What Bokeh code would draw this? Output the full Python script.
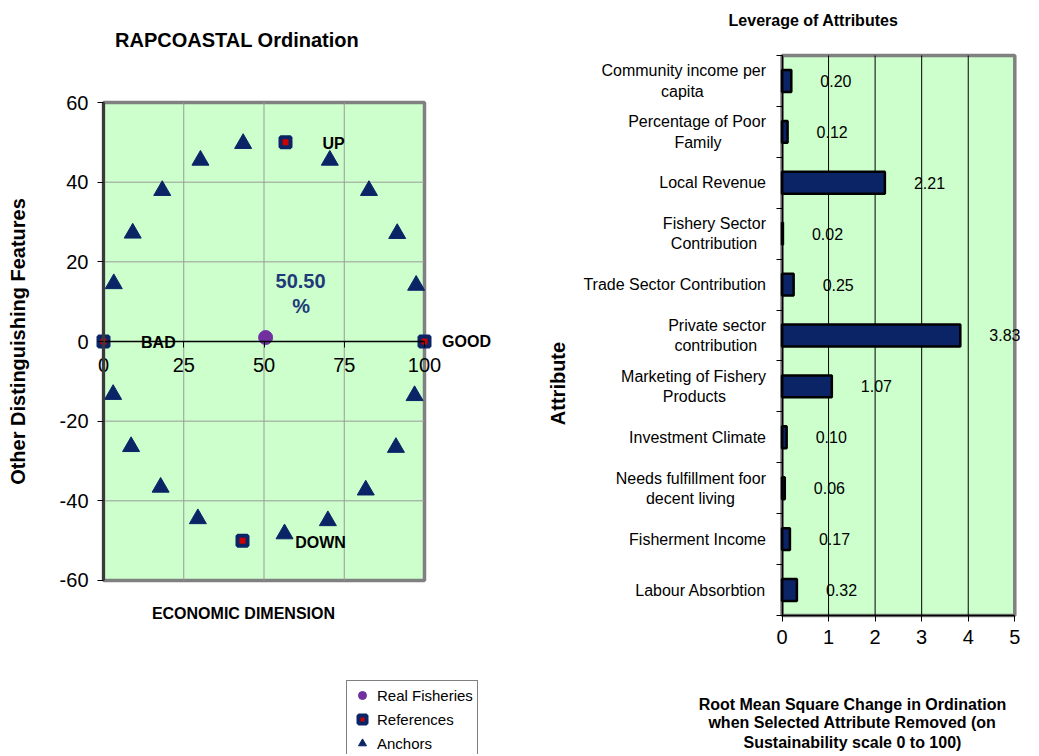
import math
from bokeh.plotting import figure
from bokeh.models import (ColumnDataSource, Range1d, LinearAxis, Label, LabelSet,
                          Legend, LegendItem, FixedTicker)
from bokeh.core.properties import value
from bokeh.layouts import row
from bokeh.embed import file_html
from bokeh.resources import INLINE

FONT = "Liberation Sans"
NAVY = "#0A2466"
GREEN = "#CCFFCC"
H = 754

# ---------------- data: ordination ----------------
anchor_x = [3.2, 9.1, 18.3, 30.2, 43.5, 70.5, 82.7, 91.5, 97.4,
            3.0, 8.6, 17.8, 29.4, 56.4, 69.9, 81.7, 91.1, 96.9]
anchor_y = [14.5, 27.2, 37.9, 45.5, 49.7, 45.5, 37.9, 27.1, 14.1,
            -13.3, -26.4, -36.6, -44.5, -48.3, -45.0, -37.3, -26.6, -13.6]
ref_x = [0, 100, 56.7, 43.3]
ref_y = [0, 0, 50, -50]
ref_names = ["BAD", "GOOD", "UP", "DOWN"]
real_x = [50.5]
real_y = [1.0]
score_text = ["50.50", "%"]
ord_x_ticks = [0, 25, 50, 75, 100]
ord_y_ticks = [-60, -40, -20, 0, 20, 40, 60]

# ---------------- data: leverage ----------------
attrs = ["Community income per\ncapita", "Percentage of Poor\nFamily", "Local Revenue",
         "Fishery Sector\nContribution", "Trade Sector Contribution",
         "Private sector\ncontribution", "Marketing of Fishery\nProducts",
         "Investment Climate", "Needs fulfillment foor\ndecent living",
         "Fisherment Income", "Labour Absorbtion"]
leverage = [0.20, 0.12, 2.21, 0.02, 0.25, 3.83, 1.07, 0.10, 0.06, 0.17, 0.32]
lev_x_ticks = [0, 1, 2, 3, 4, 5]

# Arial / Liberation Sans advance widths (1/1000 em), used to centre the lines of a
# right-aligned multi-line tick label (Excel style)
_W = dict(zip("abcdefghijklmnopqrstuvwxyz",
              [556, 556, 500, 556, 556, 278, 556, 556, 222, 222, 500, 222, 833,
               556, 556, 556, 556, 333, 500, 278, 556, 500, 722, 500, 500, 500]))
_W.update(dict(zip("ABCDEFGHIJKLMNOPQRSTUVWXYZ",
                   [667, 667, 722, 722, 667, 611, 778, 722, 278, 500, 667, 556, 833,
                    722, 778, 667, 778, 722, 667, 611, 722, 667, 944, 667, 667, 611])))
_W[" "] = 278


def centred_block(text):
    lines = text.split("\n")
    if len(lines) == 1:
        return text
    widths = [sum(_W.get(c, 556) for c in ln) for ln in lines]
    wmax = max(widths)
    out = []
    for ln, w in zip(lines, widths):
        k = int(round((wmax - w) / 2 / 278))
        out.append(ln + "\u00a0" * k)
    return "\n".join(out)


def txt_label(x, y, text, size, bold=True, color="black", angle=0.0):
    return Label(x=x, y=y, text=text, text_font=FONT, text_font_size=size,
                 text_font_style="bold" if bold else "normal", text_align="center",
                 text_baseline="middle", text_color=color, angle=angle)


def style_axis(ax, size, line_color="black", line_width=1.5, tick_out=6, standoff=8):
    ax.major_label_text_font_size = size
    ax.major_label_text_font = FONT
    ax.major_label_text_color = "black"
    ax.axis_line_color = line_color
    ax.axis_line_width = line_width
    ax.major_tick_out = tick_out
    ax.major_tick_in = 0
    ax.major_tick_line_color = "black"
    ax.minor_tick_line_color = None
    ax.major_label_standoff = standoff


# ================= left figure =================
# frame covers the whole canvas; x=0 at 103px (3.21 px/unit), y=0 at 341px (3.983 px/unit)
p1 = figure(width=530, height=H,
            x_range=Range1d(-103 / 3.21, (530 - 103) / 3.21),
            y_range=Range1d((341 - H) / 3.983, 341 / 3.983),
            output_backend="svg", toolbar_location=None,
            x_axis_location=None, y_axis_location=None, min_border=0)
p1.background_fill_color = "white"
p1.border_fill_color = "white"
p1.outline_line_color = None
p1.xgrid.visible = False
p1.ygrid.visible = False

x0, x1 = ord_x_ticks[0], ord_x_ticks[-1]
y0, y1 = ord_y_ticks[0], ord_y_ticks[-1]
p1.quad(left=[x0], right=[x1], bottom=[y0], top=[y1], fill_color=GREEN,
        line_color="#808080", line_width=3.5)
gx = ord_x_ticks[1:-1]
gy = [t for t in ord_y_ticks[1:-1] if t != 0]
p1.segment(x0=gx, y0=[y0] * len(gx), x1=gx, y1=[y1] * len(gx), line_color="#9A9A9A", line_width=1)
p1.segment(x0=[x0] * len(gy), y0=gy, x1=[x1] * len(gy), y1=gy, line_color="#9A9A9A", line_width=1)

ya = LinearAxis(fixed_location=0, bounds=(y0, y1), ticker=FixedTicker(ticks=ord_y_ticks))
style_axis(ya, "20px", line_color="#3A3A3A", line_width=3, standoff=9)
ya.major_label_overrides = {t: str(t) for t in ord_y_ticks}
ya.axis_label = "Other Distinguishing Features"
ya.axis_label_text_font = FONT
ya.axis_label_text_font_size = "20px"
ya.axis_label_text_font_style = "bold"
ya.axis_label_text_color = "black"
ya.axis_label_standoff = 28
p1.add_layout(ya, "left")

xa = LinearAxis(fixed_location=0, bounds=(x0, x1), ticker=FixedTicker(ticks=ord_x_ticks))
style_axis(xa, "20px", standoff=10)
p1.add_layout(xa, "below")

r_anchor = p1.scatter(anchor_x, anchor_y, marker="triangle", size=17,
                      fill_color=NAVY, line_color=NAVY)
r_ref = p1.scatter(ref_x, ref_y, marker="square", size=10, fill_color="#CC0000",
                   line_color=NAVY, line_width=4)
r_real = p1.scatter(real_x, real_y, marker="circle", size=14,
                    fill_color="#7030A0", line_color="#7030A0")

offsets = {"BAD": (17.1, -0.3), "GOOD": (13.1, 0.0), "UP": (15.0, -0.3), "DOWN": (24.3, -0.5)}
for nx, ny, nm in zip(ref_x, ref_y, ref_names):
    dx, dy = offsets[nm]
    p1.add_layout(txt_label(nx + dx, ny + dy, nm, "16px"))

p1.add_layout(txt_label(61.4, 15.3, score_text[0], "20px", color="#1F3A78"))
p1.add_layout(txt_label(61.6, 9.0, score_text[1], "20px", color="#1F3A78"))
p1.add_layout(txt_label(41.6, 75.8, "RAPCOASTAL Ordination", "20px"))
p1.add_layout(txt_label(43.6, -68.3, "ECONOMIC DIMENSION", "16px"))

legend = Legend(items=[LegendItem(label="Real Fisheries", renderers=[r_real]),
                       LegendItem(label="References", renderers=[r_ref]),
                       LegendItem(label="Anchors", renderers=[r_anchor])],
                location=(346, -4))
legend.label_text_font = FONT
legend.label_text_font_size = "15px"
legend.label_text_color = "black"
legend.glyph_width = 22
legend.glyph_height = 20
legend.label_height = 20
legend.label_standoff = 4
legend.spacing = 4
legend.padding = 4
legend.margin = 0
legend.border_line_color = "black"
legend.border_line_width = 1
legend.background_fill_color = "white"
legend.background_fill_alpha = 1
p1.add_layout(legend, "center")

# ================= right figure =================
# x=0 at 781.5px page (46.56 px/unit); y=0 (bottom of last band) at 615px, 50.91 px/band
W2 = 505
L2 = 530
p2 = figure(width=W2, height=H,
            x_range=Range1d((L2 - 781.5) / 46.56, (L2 + W2 - 781.5) / 46.56),
            y_range=Range1d((615 - H) / 50.91, 615 / 50.91),
            output_backend="svg", toolbar_location=None,
            x_axis_location=None, y_axis_location=None, min_border=0)
p2.background_fill_color = "white"
p2.border_fill_color = "white"
p2.outline_line_color = None
p2.xgrid.visible = False
p2.ygrid.visible = False

n = len(attrs)
centers = [n - i - 0.5 for i in range(n)]
bounds_y = list(range(n + 1))
lx0, lx1 = lev_x_ticks[0], lev_x_ticks[-1]

p2.quad(left=[lx0], right=[lx1], bottom=[0], top=[n], fill_color=GREEN,
        line_color="#808080", line_width=3.5)
gx2 = lev_x_ticks[1:-1]
p2.segment(x0=gx2, y0=[0] * len(gx2), x1=gx2, y1=[n] * len(gx2), line_color="black", line_width=1)

src = ColumnDataSource(dict(y=centers, val=leverage, txt=["%.2f" % v for v in leverage]))
p2.hbar(y="y", right="val", left=0, height=0.43, source=src,
        fill_color=NAVY, line_color="black", line_width=2.5)
p2.add_layout(LabelSet(x="val", y="y", text="txt", source=src, x_offset=29,
                       text_font=value(FONT), text_font_size=value("16px"), text_align="left",
                       text_baseline="middle", text_color="black"))

ya2 = LinearAxis(fixed_location=0, bounds=(0, n),
                 ticker=FixedTicker(ticks=centers, minor_ticks=bounds_y))
style_axis(ya2, "16px", tick_out=0, standoff=10)
ya2.major_label_overrides = {c: centred_block(a) for c, a in zip(centers, attrs)}
ya2.major_tick_line_color = None
ya2.minor_tick_line_color = "black"
ya2.minor_tick_out = 6
ya2.minor_tick_in = 0
p2.add_layout(ya2, "left")

xa2 = LinearAxis(fixed_location=0, bounds=(lx0, lx1), ticker=FixedTicker(ticks=lev_x_ticks))
style_axis(xa2, "20px", standoff=8)
p2.add_layout(xa2, "below")

p2.add_layout(txt_label(0.676, 11.69, "Leverage of Attributes", "16px"))
p2.add_layout(txt_label(-4.82, 4.557, "Attribute", "20px", angle=math.pi / 2))
for t, yy in zip(["Root Mean Square Change in Ordination",
                  "when Selected Attribute Removed (on",
                  "Sustainability scale 0 to 100)"], [-1.748, -2.102, -2.495]):
    p2.add_layout(txt_label(1.513, yy, t, "16px"))

layout = row(p1, p2)
open("out.html", "w").write(file_html(layout, INLINE))
